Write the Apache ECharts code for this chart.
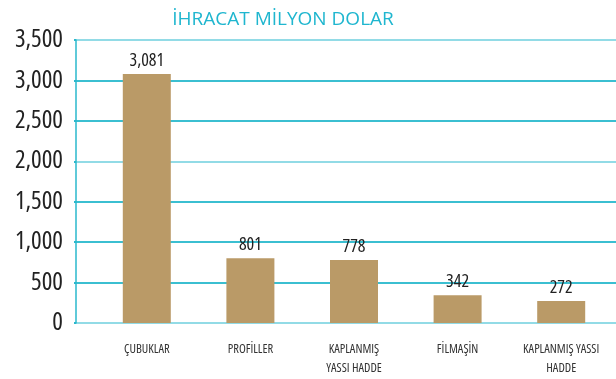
<!DOCTYPE html>
<html>
<head>
<meta charset="utf-8">
<script src="https://cdn.jsdelivr.net/npm/echarts@6/dist/echarts.min.js"></script>
<style>
  html, body { margin: 0; padding: 0; background: #fff; }
  #chart { width: 616px; height: 379px; }
</style>
</head>
<body>
<div id="chart"></div>
<script>
// Export categories and values (million USD)
const categories = ['ÇUBUKLAR', 'PROFİLLER', 'KAPLANMIŞ\nYASSI HADDE', 'FİLMAŞİN', 'KAPLANMIŞ YASSI\nHADDE'];
const exportValues = [3081, 801, 778, 342, 272];
const yTicks = [0, 500, 1000, 1500, 2000, 2500, 3000, 3500];
const titleText = 'İHRACAT MİLYON DOLAR';

// Open Sans in its condensed width gives the narrow grotesque look
const FONT = '"Open Sans", "Roboto", sans-serif';
const NARROW = 'normal condensed';
const CYAN = '#3bbfd1';
const CYAN_LIGHT = '#92dbe6';
const BAR = '#ba9a67';

const yMin = yTicks[0];
const yMax = yTicks[yTicks.length - 1];
const yStep = yTicks[1] - yTicks[0];
const fmt = v => v.toLocaleString('en-US');

// grid line colours, one per tick (baseline, 2,000 and top line are lighter)
const gridColors = yTicks.map(t => (t === 0 || t === 2000 || t === yMax) ? CYAN_LIGHT : CYAN);

const chart = echarts.init(document.getElementById('chart'), null, { renderer: 'canvas' });

chart.setOption({
  animation: false,
  title: {
    text: titleText,
    left: 278,
    top: 5,
    textAlign: 'center',
    textStyle: { color: '#1fb6cf', fontFamily: FONT, fontSize: 19, fontWeight: 'normal' }
  },
  grid: [
    // value scale with grid lines spanning the full width
    { left: 76, right: 0, top: 40, bottom: 56, outerBoundsMode: 'none', containLabel: false },
    // bars and category labels
    { left: 95, right: 3, top: 40, bottom: 56, outerBoundsMode: 'none', containLabel: false }
  ],
  xAxis: [
    { gridIndex: 0, type: 'category', data: categories, show: false },
    {
      gridIndex: 1,
      type: 'category',
      data: categories,
      axisLine: { show: false },
      axisTick: { show: false },
      axisLabel: {
        color: '#333',
        fontFamily: FONT,
        fontWeight: NARROW,
        fontSize: 12.5,
        lineHeight: 19,
        margin: 17,
        interval: 0
      }
    }
  ],
  yAxis: [
    {
      gridIndex: 0,
      type: 'value',
      min: yMin,
      max: yMax,
      interval: yStep,
      axisLine: { show: true, lineStyle: { color: '#2ab8cc', width: 1.5 } },
      axisTick: { show: true, length: 2, lineStyle: { color: '#2ab8cc', width: 2 } },
      splitLine: { lineStyle: { color: gridColors, width: 1.8 } },
      axisLabel: {
        color: '#222',
        fontFamily: FONT,
        fontWeight: NARROW,
        fontSize: 25,
        margin: 13,
        formatter: fmt
      }
    },
    {
      gridIndex: 1,
      type: 'value',
      min: yMin,
      max: yMax,
      interval: yStep,
      show: false
    }
  ],
  series: [
    {
      type: 'bar',
      xAxisIndex: 1,
      yAxisIndex: 1,
      data: exportValues,
      barWidth: 48,
      itemStyle: { color: BAR },
      label: {
        show: true,
        position: 'top',
        distance: 4,
        color: '#222',
        fontFamily: FONT,
        fontWeight: NARROW,
        fontSize: 18,
        formatter: p => fmt(p.value)
      }
    }
  ]
});
</script>
</body>
</html>
